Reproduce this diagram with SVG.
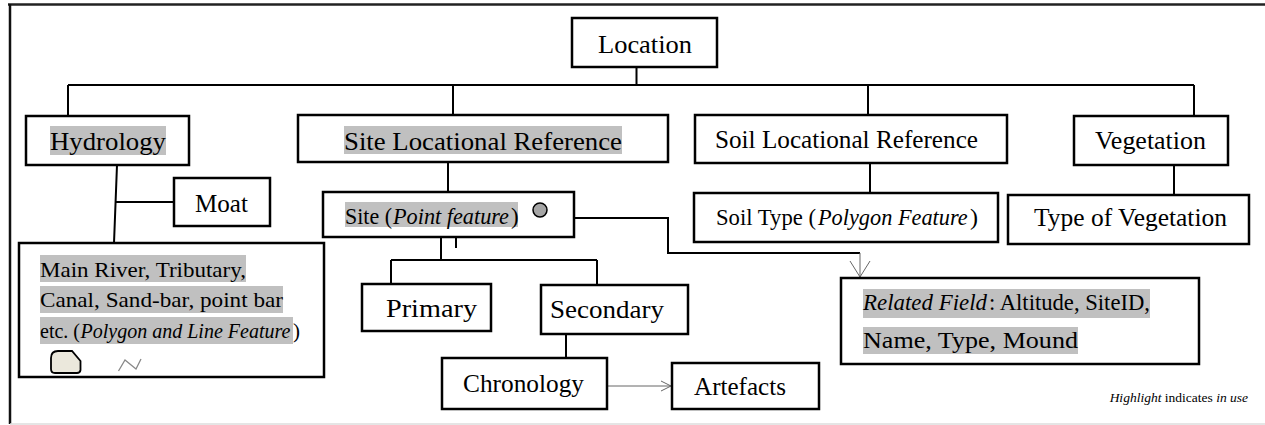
<svg xmlns="http://www.w3.org/2000/svg" width="1265" height="425" viewBox="0 0 1265 425">
<style>
.box{fill:#fff;stroke:#000;stroke-width:2.5}
.hl{fill:#c0c0c0}
.t{font-family:"Liberation Serif","Times New Roman","DejaVu Serif",serif;fill:#000}
.it{font-style:italic}
.c{fill:none;stroke:#000;stroke-width:2}
.thin{fill:none;stroke:#666;stroke-width:1}
</style>
<rect x="0" y="0" width="1265" height="425" fill="#fff"/>
<g id="frame">
<line x1="8" y1="4.5" x2="1265" y2="4.5" stroke="#222" stroke-width="2.5"/>
<line x1="10" y1="4" x2="10" y2="424" stroke="#111" stroke-width="2.5"/>
<line x1="10" y1="424" x2="1265" y2="424" stroke="#ddd" stroke-width="1.5"/>
</g>
<g id="connectors">
<path class="c" d="M636.5 67 V85 M68 85 H1194 M68 85 V116 M453 85 V115 M868 85 V115 M1194 85 V116"/>
<path class="c" d="M117 165 L114 243 M116 202 H174"/>
<path class="c" d="M448 162 V192 M441 237 V260 M456 237 V248 M391 260 H597 M391 260 V284 M597 260 V285 M566 334 V358"/>
<path class="c" d="M870 163 V193 M1174 165 V195"/>
<path class="c" d="M574 218 H668 V253 H860"/>
<path class="thin" d="M860 253 V277 M850 261 L860 277 L870 261"/>
<path class="thin" d="M607 386 H671 M661 381 L671 386 L661 391"/>
</g>
<g id="location">
<rect class="box" x="572" y="18" width="145" height="49"/>
<text class="t" x="598" y="53" font-size="26" textLength="94" lengthAdjust="spacingAndGlyphs">Location</text>
</g>
<g id="hydrology">
<rect class="box" x="26" y="116" width="163" height="49"/>
<rect class="hl" x="50" y="126" width="116" height="29"/>
<text class="t" x="50" y="150" font-size="26" textLength="116" lengthAdjust="spacingAndGlyphs">Hydrology</text>
</g>
<g id="site-locational-reference">
<rect class="box" x="298" y="115" width="370" height="47"/>
<rect class="hl" x="344" y="126" width="278" height="28"/>
<text class="t" x="344" y="150" font-size="26" textLength="278" lengthAdjust="spacingAndGlyphs">Site Locational Reference</text>
</g>
<g id="soil-locational-reference">
<rect class="box" x="695" y="115" width="312" height="48"/>
<text class="t" x="715" y="148" font-size="25" textLength="263" lengthAdjust="spacingAndGlyphs">Soil Locational Reference</text>
</g>
<g id="vegetation">
<rect class="box" x="1074" y="116" width="154" height="49"/>
<text class="t" x="1095" y="149" font-size="25" textLength="111" lengthAdjust="spacingAndGlyphs">Vegetation</text>
</g>
<g id="moat">
<rect class="box" x="174" y="178" width="96" height="48"/>
<text class="t" x="195" y="212" font-size="25" textLength="53" lengthAdjust="spacingAndGlyphs">Moat</text>
</g>
<g id="hydrology-features">
<rect class="box" x="19" y="243" width="305" height="134"/>
<rect class="hl" x="40" y="255" width="206" height="27"/>
<rect class="hl" x="40" y="286" width="243" height="27"/>
<rect class="hl" x="40" y="317" width="253" height="27"/>
<text class="t" x="40" y="277" font-size="22" textLength="206" lengthAdjust="spacingAndGlyphs">Main River, Tributary,</text>
<text class="t" x="40" y="307" font-size="22" textLength="243" lengthAdjust="spacingAndGlyphs">Canal, Sand-bar, point bar</text>
<text class="t" x="40" y="338" font-size="21" textLength="40" lengthAdjust="spacingAndGlyphs">etc. (</text>
<text class="t it" x="80.6" y="338" font-size="20">Polygon and Line Feature</text>
<text class="t" x="293" y="338" font-size="21">)</text>
<path d="M51 358 Q51 351 58 351 H72 L80.5 361 V370 Q80 373 77 373 H55 Q51 373 51 369 Z" fill="#ebe8dc" stroke="#000" stroke-width="1.8"/>
<path d="M118.5 371 L125 360 L136 369 L141 359" fill="none" stroke="#888" stroke-width="1.3"/>
</g>
<g id="site">
<rect class="box" x="323" y="192" width="251" height="45"/>
<rect class="hl" x="345" y="202" width="173" height="25"/>
<text class="t" x="345" y="224" font-size="23" textLength="47" lengthAdjust="spacingAndGlyphs">Site (</text>
<text class="t it" x="393" y="224" font-size="23" textLength="116" lengthAdjust="spacingAndGlyphs">Point feature</text>
<text class="t" x="511" y="224" font-size="23">)</text>
<circle cx="540" cy="210" r="7" fill="#a6a6a6" stroke="#000" stroke-width="1.5"/>
</g>
<g id="soil-type">
<rect class="box" x="694" y="193" width="304" height="49"/>
<text class="t" x="716" y="225" font-size="24" textLength="100" lengthAdjust="spacingAndGlyphs">Soil Type (</text>
<text class="t it" x="818" y="225" font-size="22.3">Polygon Feature</text>
<text class="t" x="970" y="225" font-size="24">)</text>
</g>
<g id="type-of-vegetation">
<rect class="box" x="1008" y="195" width="241" height="49"/>
<text class="t" x="1034" y="226" font-size="25" textLength="193" lengthAdjust="spacingAndGlyphs">Type of Vegetation</text>
</g>
<g id="primary">
<rect class="box" x="362" y="284" width="129" height="47"/>
<text class="t" x="386" y="317" font-size="26" textLength="91" lengthAdjust="spacingAndGlyphs">Primary</text>
</g>
<g id="secondary">
<rect class="box" x="541" y="285" width="147" height="49"/>
<text class="t" x="550" y="318" font-size="26" textLength="114" lengthAdjust="spacingAndGlyphs">Secondary</text>
</g>
<g id="chronology">
<rect class="box" x="442" y="358" width="165" height="51"/>
<text class="t" x="463" y="392" font-size="26" textLength="121" lengthAdjust="spacingAndGlyphs">Chronology</text>
</g>
<g id="artefacts">
<rect class="box" x="672" y="363" width="147" height="46"/>
<text class="t" x="694" y="395" font-size="25" textLength="92" lengthAdjust="spacingAndGlyphs">Artefacts</text>
</g>
<g id="related-field">
<rect class="box" x="841" y="278" width="358" height="86"/>
<rect class="hl" x="863" y="289" width="287" height="29"/>
<rect class="hl" x="863" y="327" width="215" height="27"/>
<text class="t it" x="863" y="310" font-size="24" textLength="124" lengthAdjust="spacingAndGlyphs">Related Field</text>
<text class="t" x="989" y="310" font-size="24" textLength="161" lengthAdjust="spacingAndGlyphs">: Altitude, SiteID,</text>
<text class="t" x="863" y="348" font-size="24" textLength="215" lengthAdjust="spacingAndGlyphs">Name, Type, Mound</text>
</g>
<g id="legend">
<text class="t" x="1248" y="402" font-size="13.5" text-anchor="end"><tspan class="it">Highlight</tspan> indicates <tspan class="it">in use</tspan></text>
</g>
</svg>
